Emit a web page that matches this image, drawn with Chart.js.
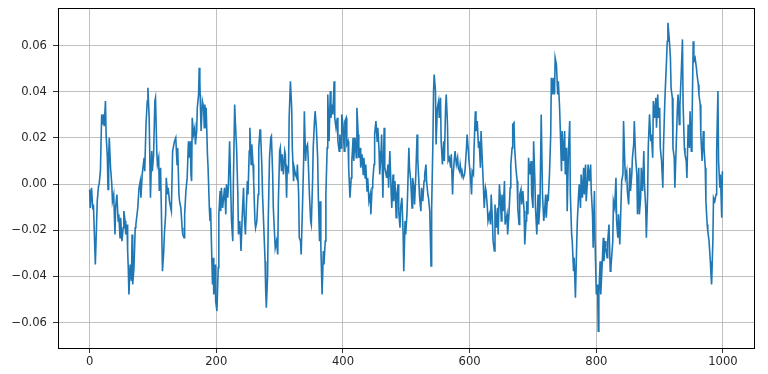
<!DOCTYPE html>
<html><head><meta charset="utf-8">
<script src="https://cdn.jsdelivr.net/npm/chart.js@4.4.1/dist/chart.umd.min.js"></script>
<style>html,body{margin:0;padding:0;background:#fff}#wrap{width:768px;height:374px}</style>
</head><body><div id="wrap"><canvas id="c" width="768" height="374"></canvas></div>
<script>
const steps = [0,1,3,5,6,9,12,14,15,17,19,20,22,23,25,26,28,29,30,31,33,35,36,38,40,41,43,45,46,48,49,51,53,54,56,57,59,60,61,62,64,66,67,68,70,72,73,76,78,80,81,83,86,87,89,91,92,94,96,98,99,101,103,104,106,107,109,110,112,113,115,117,118,120,121,123,124,126,128,129,131,132,134,136,138,139,141,142,144,146,147,149,150,152,154,156,157,159,160,161,
162,164,166,167,169,170,172,173,174,175,176,178,180,181,182,183,184,186,187,189,190,191,193,194,195,196,198,199,201,203,204,206,207,208,210,212,213,215,216,218,219,221,223,224,226,227,229,230,232,234,235,237,238,239,241,243,244,246,247,249,250,252,253,255,256,258,259,261,262,264,266,267,269,270,272,273,275,277,278,279,281,282,284,286,287,289,290,292,293,295,297,298,300,301,303,304,306,308,309,311,312,314,315,317,319,320,322,323,
325,327,328,330,331,333,334,336,338,339,341,342,344,345,347,349,350,352,353,355,356,358,360,361,363,364,365,367,369,370,372,373,375,376,378,380,381,383,384,386,387,389,391,392,394,395,397,398,400,402,403,405,406,408,409,411,413,414,416,417,419,421,422,424,425,427,428,430,432,433,435,436,438,439,441,443,444,446,447,449,450,452,454,455,457,458,460,461,463,465,466,468,469,471,472,474,476,477,479,480,482,484,485,487,488,490,491,493,
495,496,498,499,501,502,504,505,507,509,510,512,513,515,517,518,520,521,523,524,526,528,529,531,532,534,535,537,539,540,542,543,544,546,547,549,551,552,554,555,557,559,560,562,563,565,566,568,570,571,573,574,576,577,579,581,582,584,585,587,588,590,592,593,595,596,598,599,601,603,604,606,607,609,610,612,614,615,617,618,620,622,623,625,626,628,629,631,633,634,636,637,639,640,642,644,645,647,648,650,651,653,655,656,
659,660,662,664,665,667,668,670,671,673,675,676,678,679,681,682,684,686,687,689,690,692,693,695,697,698,700,701,703,704,706,708,709,711,712,713,715,717,718,720,721,723,724,726,728,729,731,732,734,735,737,739,740,742,743,745,746,748,750,751,753,754,756,758,759,761,762,764,765,767,769,770,772,773,775,776,778,780,781,783,784,786,787,789,791,792,794,795,797,798,800,802,803,804,806,807,809,811,812,814,815,817,818,820,822,823,
826,827,829,831,832,834,835,837,838,840,842,843,845,846,848,849,851,853,854,856,857,859,860,862,864,865,867,868,870,871,873,875,876,878,879,881,882,884,886,887,889,890,892,894,895,897,898,900,901,903,905,906,908,909,911,912,913,915,917,918,920,921,923,924,926,928,929,931,932,934,936,937,939,940,942,943,945,947,948,950,951,953,954,956,958,959,961,962,964,965,967,969,970,972,973,975,976,978,980,981,982,984,985,987,989,990,992,993,995,996,998,999];
const values = [-0.0023,-0.0103,-0.0016,-0.0110,-0.0088,-0.0348,-0.0074,-0.0009,-0.0001,0.0056,0.0302,0.0258,0.0302,0.0251,0.0360,0.0215,0.0114,-0.0023,0.0114,0.0201,0.0071,-0.0001,-0.0074,-0.0045,-0.0218,-0.0103,-0.0045,-0.0160,-0.0131,-0.0232,-0.0146,-0.0247,-0.0189,-0.0117,-0.0160,-0.0218,-0.0175,-0.0290,-0.0362,-0.0478,-0.0348,-0.0420,-0.0218,-0.0435,-0.0362,-0.0189,-0.0175,-0.0103,-0.0016,0.0013,-0.0059,0.0042,0.0114,0.0056,0.0258,0.0360,0.0417,0.0287,-0.0059,0.0143,0.0056,0.0129,0.0360,0.0374,0.0143,0.0085,0.0114,-0.0030,0.0071,-0.0074,-0.0377,-0.0290,-0.0218,-0.0131,0.0027,-0.0045,-0.0016,-0.0074,-0.0103,-0.0117,0.0143,0.0157,0.0186,0.0201,0.0085,0.0157,-0.0045,-0.0074,-0.0103,-0.0189,-0.0218,-0.0232,-0.0131,-0.0030,0.0027,0.0186,0.0114,0.0186,0.0042,0.0013,
0.0287,0.0215,0.0244,0.0172,0.0230,0.0331,0.0388,0.0504,0.0446,0.0331,0.0230,0.0360,0.0331,0.0244,0.0345,0.0244,0.0331,0.0129,0.0071,-0.0103,-0.0160,-0.0103,-0.0334,-0.0435,-0.0319,-0.0478,-0.0348,-0.0507,-0.0550,-0.0362,-0.0131,-0.0030,-0.0117,-0.0016,-0.0103,-0.0045,-0.0016,-0.0131,-0.0001,-0.0059,-0.0016,0.0186,-0.0045,-0.0160,-0.0247,0.0013,0.0345,0.0273,0.0157,-0.0045,-0.0218,-0.0160,-0.0218,-0.0290,-0.0131,-0.0016,-0.0131,-0.0218,-0.0131,0.0013,-0.0045,0.0143,0.0244,0.0085,0.0172,0.0085,0.0013,-0.0160,-0.0189,-0.0160,-0.0045,0.0157,0.0237,0.0215,0.0071,-0.0045,-0.0189,-0.0334,-0.0464,-0.0536,-0.0391,-0.0160,0.0114,0.0201,0.0208,0.0042,-0.0103,-0.0218,-0.0276,-0.0247,-0.0305,-0.0074,0.0143,0.0157,0.0056,0.0129,0.0042,0.0143,0.0129,-0.0059,0.0071,0.0056,0.0287,0.0446,0.0331,0.0157,0.0013,0.0071,
0.0042,0.0027,0.0085,-0.0045,-0.0232,-0.0247,-0.0305,-0.0103,0.0114,0.0316,0.0100,0.0157,0.0172,0.0114,-0.0045,-0.0160,-0.0175,0.0013,0.0157,0.0273,0.0316,0.0244,0.0114,-0.0045,-0.0247,-0.0074,-0.0261,-0.0478,-0.0290,-0.0348,-0.0247,-0.0045,0.0157,0.0388,0.0186,0.0403,0.0287,0.0345,0.0302,0.0446,0.0287,0.0244,0.0287,0.0186,0.0143,0.0215,0.0157,0.0302,0.0258,0.0143,0.0273,0.0287,0.0172,0.0186,0.0071,-0.0059,0.0027,0.0100,0.0201,0.0100,0.0201,0.0114,0.0331,0.0215,0.0114,0.0157,0.0071,0.0129,0.0042,0.0114,0.0027,0.0085,-0.0030,0.0027,-0.0074,-0.0045,-0.0131,-0.0016,0.0013,0.0085,0.0215,0.0273,0.0186,0.0244,0.0143,0.0042,0.0129,0.0215,-0.0059,0.0244,0.0071,0.0042,0.0027,0.0085,-0.0016,0.0143,-0.0030,-0.0103,0.0042,-0.0074,0.0013,-0.0146,-0.0045,-0.0001,-0.0117,-0.0189,-0.0103,-0.0059,
-0.0218,-0.0377,-0.0160,-0.0218,-0.0131,-0.0045,0.0157,0.0071,0.0013,-0.0103,0.0027,-0.0016,-0.0088,0.0042,0.0215,0.0114,-0.0001,-0.0059,-0.0117,-0.0016,-0.0074,0.0013,0.0042,0.0085,0.0013,-0.0045,-0.0059,-0.0117,-0.0355,-0.0103,0.0186,0.0403,0.0475,0.0403,0.0172,0.0331,0.0360,0.0287,0.0374,0.0186,0.0085,0.0186,0.0100,0.0331,0.0388,0.0258,0.0100,0.0114,0.0071,0.0129,-0.0045,0.0042,0.0114,0.0143,0.0085,0.0114,0.0071,0.0056,0.0085,0.0042,0.0056,0.0027,0.0042,0.0071,0.0157,0.0215,0.0143,0.0100,0.0042,-0.0045,0.0056,0.0042,0.0157,0.0316,0.0230,0.0273,0.0157,0.0186,0.0071,0.0230,0.0100,-0.0030,-0.0103,-0.0016,-0.0030,-0.0103,-0.0160,-0.0131,-0.0175,-0.0045,-0.0160,-0.0247,-0.0290,-0.0088,-0.0189,-0.0103,-0.0218,-0.0001,-0.0045,-0.0160,-0.0045,-0.0117,0.0013,-0.0175,
-0.0131,-0.0218,-0.0131,-0.0016,0.0085,0.0157,0.0258,0.0266,0.0157,0.0071,0.0013,-0.0103,-0.0175,-0.0045,-0.0023,-0.0088,-0.0030,-0.0117,-0.0261,-0.0160,-0.0074,-0.0131,0.0114,0.0042,0.0100,-0.0045,-0.0103,0.0186,0.0013,-0.0103,-0.0218,-0.0045,-0.0175,-0.0088,0.0100,0.0302,-0.0045,-0.0160,-0.0131,-0.0045,-0.0146,-0.0045,-0.0074,0.0042,0.0215,0.0461,0.0388,0.0461,0.0388,0.0547,0.0518,0.0388,0.0446,0.0331,0.0244,0.0056,0.0230,0.0100,0.0230,0.0042,0.0157,-0.0117,0.0143,0.0273,-0.0045,-0.0218,-0.0247,-0.0377,-0.0319,-0.0492,-0.0261,-0.0160,-0.0045,-0.0001,-0.0103,0.0042,-0.0059,0.0071,-0.0045,0.0085,-0.0074,0.0013,0.0085,0.0013,0.0085,-0.0030,-0.0131,-0.0276,-0.0030,-0.0247,-0.0478,-0.0435,-0.0637,-0.0478,-0.0334,-0.0478,-0.0362,-0.0232,-0.0334,-0.0247,-0.0276,-0.0319,-0.0247,-0.0175,-0.0377,-0.0362,
-0.0247,-0.0074,-0.0103,0.0027,-0.0160,-0.0232,-0.0131,-0.0261,-0.0175,0.0013,0.0042,0.0273,0.0085,0.0027,0.0056,-0.0030,-0.0088,0.0071,-0.0030,0.0042,0.0114,0.0172,0.0273,0.0114,0.0042,-0.0131,0.0071,-0.0131,-0.0059,0.0071,-0.0030,0.0143,-0.0001,-0.0103,-0.0232,-0.0045,0.0157,0.0302,0.0186,0.0215,0.0114,0.0360,0.0287,0.0374,0.0244,0.0388,0.0287,0.0331,0.0157,0.0100,-0.0016,0.0157,0.0345,0.0417,0.0547,0.0619,0.0699,0.0634,0.0547,0.0417,0.0374,0.0157,0.0114,-0.0016,0.0157,0.0331,0.0388,0.0258,0.0345,0.0475,0.0627,0.0345,0.0157,0.0129,0.0100,0.0027,0.0258,0.0157,0.0316,0.0143,0.0244,0.0619,0.0533,0.0547,0.0504,0.0475,0.0432,0.0388,0.0345,0.0215,0.0100,0.0230,0.0157,0.0071,-0.0074,-0.0175,-0.0204,-0.0247,-0.0334,-0.0391,-0.0435,-0.0247,-0.0059,-0.0074,-0.0045,0.0143,0.0403,0.0100,-0.0016,0.0042,-0.0146,0.0056];
const xTicks = [0,200,400,600,800,1000];
const yTicks = [-0.06,-0.04,-0.02,0.00,0.02,0.04,0.06];

const pts = steps.map((s,i)=>({x:s,y:values[i]}));
const frame = {id:'frame',afterDraw(ch){const a=ch.chartArea,c=ch.ctx;c.save();c.strokeStyle='#000';c.lineWidth=1;c.strokeRect(Math.round(a.left)+0.5,Math.round(a.top)+0.5,Math.round(a.right-a.left),Math.round(a.bottom-a.top));c.restore();}};
const fnt = {family:'DejaVu Sans',size:11.6};
new Chart(document.getElementById('c'),{
  type:'line',
  data:{datasets:[{data:pts,borderColor:'#1f77b4',borderWidth:1.6,pointRadius:0,tension:0,fill:false}]},
  options:{
    responsive:false,animation:false,
    layout:{padding:{left:0,right:14,top:8,bottom:0}},
    plugins:{legend:{display:false},tooltip:{enabled:false}},
    scales:{
      x:{type:'linear',min:-49.95,max:1048.95,
        afterBuildTicks(s){s.ticks=xTicks.map(v=>({value:v}));},
        afterFit(s){s.height=26;s.paddingLeft=0;s.paddingRight=0;},
        grid:{color:'#b0b0b0',lineWidth:0.8,tickColor:'#000',tickLength:5,drawTicks:true},
        border:{display:false},
        ticks:{font:fnt,color:'#262626',padding:2,maxRotation:0,callback:v=>String(v)}},
      y:{type:'linear',min:-0.0710,max:0.0763,
        afterBuildTicks(s){s.ticks=yTicks.map(v=>({value:v}));},
        afterFit(s){s.width=58;s.paddingTop=0;s.paddingBottom=0;},
        grid:{color:'#b0b0b0',lineWidth:0.8,tickColor:'#000',tickLength:5,drawTicks:true},
        border:{display:false},
        ticks:{font:fnt,color:'#262626',padding:6,callback:v=>(v<0?'\u2212':'')+Math.abs(v).toFixed(2)}}
    }
  },
  plugins:[frame]
});
</script></body></html>
